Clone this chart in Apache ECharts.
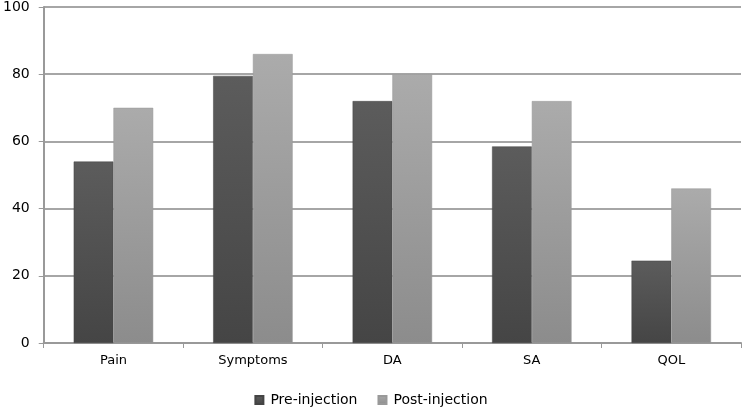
<!DOCTYPE html>
<html><head><meta charset="utf-8">
<script src="https://cdn.jsdelivr.net/npm/echarts@6/dist/echarts.min.js"></script>
<style>html,body{margin:0;padding:0;background:#fff}#c{width:742px;height:408px}</style>
</head><body><div id="c"></div>
<script>
var categories = ['Pain', 'Symptoms', 'DA', 'SA', 'QOL'];
var preInjection = [54, 79.5, 72, 58.5, 24.5];
var postInjection = [70, 86, 80, 72, 46];
var yTicks = [0, 20, 40, 60, 80, 100];

var chart = echarts.init(document.getElementById('c'));
function grad(top, bottom) {
  return new echarts.graphic.LinearGradient(0, 0, 0, 1, [{offset: 0, color: top}, {offset: 1, color: bottom}]);
}
chart.setOption({
  animation: false,
  textStyle: {fontFamily: 'DejaVu Sans'},
  grid: {left: 42, right: 1, top: 5, bottom: 65},
  legend: {
    top: 388, left: 'center', itemWidth: 8, itemHeight: 8, itemGap: 20,
    textStyle: {fontSize: 14, color: '#000', fontFamily: 'DejaVu Sans', padding: [0, 0, 0, 2]},
    data: [{name: 'Pre-injection', icon: 'rect'}, {name: 'Post-injection', icon: 'rect'}]
  },
  xAxis: {
    type: 'category', data: categories,
    axisLine: {lineStyle: {color: '#999', width: 2}},
    axisTick: {show: true, alignWithLabel: false, length: 5, lineStyle: {color: '#999'}},
    axisLabel: {fontSize: 13, color: '#000', margin: 11}
  },
  yAxis: {
    type: 'value', min: 0, max: 100, interval: 20,
    axisLine: {show: true, lineStyle: {color: '#999', width: 2}},
    axisTick: {show: true, length: 5, lineStyle: {color: '#999'}},
    axisLabel: {fontSize: 14, color: '#000', margin: 14,
      formatter: function (v) { return yTicks.indexOf(v) >= 0 ? String(v) : ''; }},
    splitLine: {lineStyle: {color: '#a6a6a6', width: 2}}
  },
  series: [
    {name: 'Pre-injection', type: 'bar', data: preInjection, barGap: '0%', barCategoryGap: '43%',
      itemStyle: {color: grad('#5c5c5c', '#454545'), borderColor: '#444', borderWidth: 0.5}},
    {name: 'Post-injection', type: 'bar', data: postInjection,
      itemStyle: {color: grad('#ababab', '#8c8c8c'), borderColor: '#999', borderWidth: 0.5}}
  ]
});
</script></body></html>
